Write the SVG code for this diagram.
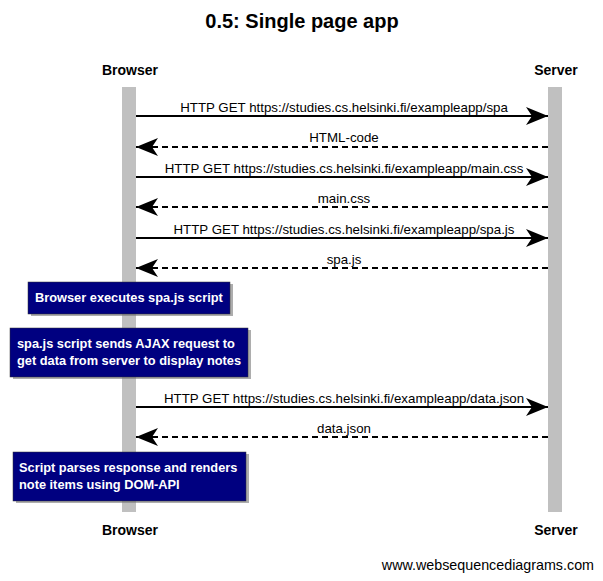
<svg xmlns="http://www.w3.org/2000/svg" width="603" height="581" viewBox="0 0 603 581">
<style>
.t{font-family:"Liberation Sans",Arial,sans-serif;fill:#000}
.title{font-size:20px;font-weight:bold;text-anchor:middle}
.actor{font-size:14px;font-weight:bold;text-anchor:middle}
.msg{font-size:13.3px;text-anchor:middle}
.note{font-family:"Liberation Sans",Arial,sans-serif;font-size:12.8px;font-weight:bold;fill:#fff}
.nbox{fill:#000080;stroke:#333;stroke-width:0.5}
.shadow{fill:#777;opacity:0.6}
.life{fill:#c0c0c0}
.solid{stroke:#000;stroke-width:2;fill:none;marker-end:url(#ah)}
.dash{stroke:#000;stroke-width:2;fill:none;stroke-dasharray:6,4;marker-end:url(#ah)}
</style>
<defs>
<marker id="ah" markerWidth="24" markerHeight="20" refX="22" refY="10" orient="auto" markerUnits="userSpaceOnUse">
<path d="M0,1 L22,10 L0,19 L6,10 Z" fill="#000"/>
</marker>
</defs>
<rect width="603" height="581" fill="#fff"/>
<text class="t title" x="302" y="28">0.5: Single page app</text>
<g id="browser">
<text class="t actor" x="130" y="75">Browser</text>
<rect class="life" x="122" y="87" width="14" height="425"/>
<text class="t actor" x="130" y="535">Browser</text>
</g>
<g id="server">
<text class="t actor" x="556" y="75">Server</text>
<rect class="life" x="548" y="87" width="14" height="425"/>
<text class="t actor" x="556" y="535">Server</text>
</g>
<g id="connectors">
<line class="solid" x1="136" y1="116" x2="548" y2="116"/>
<text class="t msg" x="344" y="112">HTTP GET https://studies.cs.helsinki.fi/exampleapp/spa</text>
<line class="dash" x1="548" y1="147" x2="136" y2="147"/>
<text class="t msg" x="344" y="142">HTML-code</text>
<line class="solid" x1="136" y1="177" x2="548" y2="177"/>
<text class="t msg" x="344" y="173">HTTP GET https://studies.cs.helsinki.fi/exampleapp/main.css</text>
<line class="dash" x1="548" y1="207" x2="136" y2="207"/>
<text class="t msg" x="344" y="203">main.css</text>
<line class="solid" x1="136" y1="238" x2="548" y2="238"/>
<text class="t msg" x="344" y="234">HTTP GET https://studies.cs.helsinki.fi/exampleapp/spa.js</text>
<line class="dash" x1="548" y1="268" x2="136" y2="268"/>
<text class="t msg" x="344" y="264">spa.js</text>
<line class="solid" x1="136" y1="407" x2="548" y2="407"/>
<text class="t msg" x="344" y="403">HTTP GET https://studies.cs.helsinki.fi/exampleapp/data.json</text>
<line class="dash" x1="548" y1="437" x2="136" y2="437"/>
<text class="t msg" x="344" y="433">data.json</text>
</g>
<g id="note1">
<rect class="shadow" x="31" y="284" width="202" height="32"/>
<rect class="nbox" x="28" y="282" width="202" height="32"/>
<text class="note" x="35" y="302">Browser executes spa.js script</text>
</g>
<g id="note2">
<rect class="shadow" x="13" y="330" width="238" height="49"/>
<rect class="nbox" x="10" y="328" width="238" height="49"/>
<text class="note" x="17" y="348">spa.js script sends AJAX request to</text>
<text class="note" x="17" y="365">get data from server to display notes</text>
</g>
<g id="note3">
<rect class="shadow" x="16" y="454" width="233" height="49"/>
<rect class="nbox" x="13" y="452" width="233" height="49"/>
<text class="note" x="19" y="472">Script parses response and renders</text>
<text class="note" x="19" y="489">note items using DOM-API</text>
</g>
<text class="t" x="594" y="570" font-size="14.3" text-anchor="end">www.websequencediagrams.com</text>
</svg>
